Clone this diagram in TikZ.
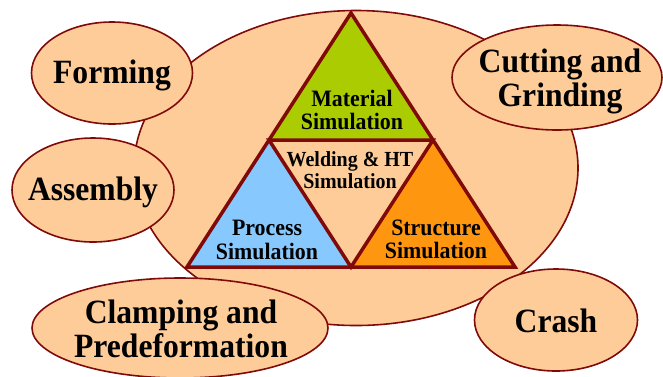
\documentclass[tikz,border=0pt]{standalone}
\usepackage{fontspec}
\setmainfont{Liberation Serif}[FakeStretch=0.93]
\usetikzlibrary{shapes.geometric}
\definecolor{peach}{RGB}{254,204,153}
\definecolor{dred}{RGB}{128,10,10}
\definecolor{tgreen}{RGB}{170,204,0}
\definecolor{tblue}{RGB}{135,200,255}
\definecolor{torange}{RGB}{255,150,15}
\tikzset{
  blob/.style={ellipse,draw=dred,fill=peach,line width=1.6pt,inner sep=0pt},
  otext/.style={align=center,inner sep=0pt,font=\bfseries\fontsize{34}{34}\selectfont},
  inner/.style={align=center,inner sep=0pt,font=\bfseries\fontsize{23.5}{23.5}\selectfont},
  tri/.style={draw=dred,line width=3.5pt,line join=miter}
}
\begin{document}
\begin{tikzpicture}[x=1pt,y=-1pt]
\useasboundingbox (0,0) rectangle (663,376);
% big ellipse
\node[blob,minimum width=444pt,minimum height=315pt] (big) at (356,168) {};
% triangle corners
\coordinate (A) at (351,13);
\coordinate (BL) at (187,267);
\coordinate (BR) at (515,267);
\coordinate (ML) at (269,140);
\coordinate (MR) at (433,140);
\coordinate (MB) at (351,267);
\fill[tgreen] (A) -- (ML) -- (MR) -- cycle;
\fill[tblue] (ML) -- (BL) -- (MB) -- cycle;
\fill[torange] (MR) -- (MB) -- (BR) -- cycle;
\draw[tri] (A) -- (BL) -- (BR) -- cycle;
\draw[tri] (ML) -- (MR) -- (MB) -- cycle;
% triangle labels
\node[inner] (mat) at (352,110) {Material\\Simulation};
\node[inner,font=\bfseries\fontsize{21.5}{21.5}\selectfont] (weld) at (350,170) {Welding \& HT\\Simulation};
\node[inner] (proc) at (267,240) {Process\\Simulation};
\node[inner] (struc) at (436,239.5) {Structure\\Simulation};
% outer ellipses
\node[blob,minimum width=161pt,minimum height=102pt] (form) at (112,73) {};
\node[blob,minimum width=162pt,minimum height=104pt] (asm) at (93,190) {};
\node[blob,minimum width=210pt,minimum height=105pt] (cut) at (557,77.5) {};
\node[blob,minimum width=296pt,minimum height=100pt] (clamp) at (180,328) {};
\node[blob,minimum width=163pt,minimum height=102pt] (crash) at (556,320) {};
\node[otext] (formT) at (112,75) {Forming};
\node[otext] (asmT) at (93,192) {Assembly};
\node[otext] (cutT) at (560,81) {Cutting and\\Grinding};
\node[otext] (clampT) at (181,329) {Clamping and\\Predeformation};
\node[otext] (crashT) at (556,321) {Crash};
\end{tikzpicture}
\end{document}
